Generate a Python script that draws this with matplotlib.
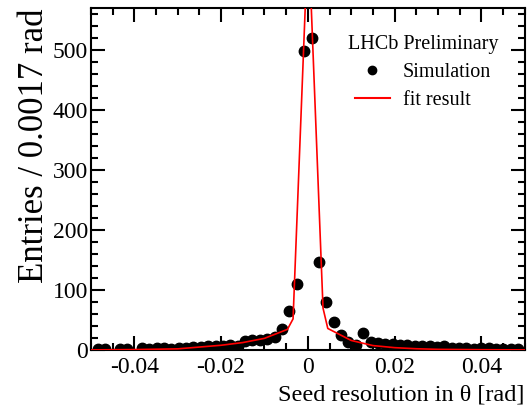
import numpy as np
import matplotlib.pyplot as plt
from matplotlib.ticker import MultipleLocator
from matplotlib.lines import Line2D

plt.rcParams['font.family'] = ['Liberation Serif', 'DejaVu Serif']

# histogram bins (width 0.0017 rad, edge at 0)
bin_width = 0.0017
bin_index = np.arange(-29, 29)
entries = [2, 2, 0, 2, 2, 0, 3, 2, 3, 3,
           2, 4, 4, 5, 5, 6, 7, 6, 8, 6,
           15, 17, 17, 18, 22, 35, 65, 110, 498, 520,
           146, 80, 46, 25, 13, 9, 29, 13, 11, 10,
           10, 9, 8, 7, 6, 6, 5, 6, 4, 3,
           3, 2, 3, 3, 2, 2, 2, 2]

# fit curve as drawn (vertices)
fit_x = [-0.05, -0.04, -0.03, -0.025, -0.02, -0.015, -0.01, -0.0047, -0.0034,
         0.0001, 0.0035, 0.0046, 0.01, 0.015, 0.02, 0.025, 0.03, 0.04, 0.05]
fit_y = [0.3, 0.8, 2, 5, 8, 12.5, 19.5, 34.5, 52,
         700, 70, 36, 16, 7.5, 4, 2.2, 1.2, 0.6, 0.3]

centers = (bin_index + 0.5) * bin_width
entries = np.array(entries, dtype=float)
mask = entries > 0

fig = plt.figure(figsize=(5.28, 4.08), dpi=100)
ax = fig.add_axes([0.172, 0.142, 0.822, 0.838])

ax.plot(centers[mask], entries[mask], 'o', color='black', markersize=7.5,
        linestyle='none', zorder=3)
ax.plot(fit_x, fit_y, color='red', linewidth=1.2, zorder=4)

ax.set_xlim(-0.05, 0.05)
ax.set_ylim(0, 570)

ax.xaxis.set_minor_locator(MultipleLocator(0.005))
ax.yaxis.set_major_locator(MultipleLocator(100))
ax.yaxis.set_minor_locator(MultipleLocator(20))
ax.set_xticks([-0.04, -0.02, 0, 0.02, 0.04])
ax.set_xticklabels(['-0.04', '-0.02', '0', '0.02', '0.04'])

ax.tick_params(which='both', direction='in', top=True, right=True,
               labelsize=17, width=1.5, color='black')
ax.tick_params(which='major', length=10)
ax.tick_params(axis='y', which='major', pad=2)
ax.tick_params(axis='x', which='major', pad=5)
ax.tick_params(which='minor', length=5)
for sp in ax.spines.values():
    sp.set_linewidth(1.5)

ax.set_xlabel('Seed resolution in θ [rad]', fontsize=17.5, loc='right', labelpad=5)
ax.set_ylabel('Entries / 0.0017 rad', fontsize=25, loc='top', labelpad=1)

handles = [Line2D([], [], marker='o', color='black', linestyle='none', markersize=6),
           Line2D([], [], color='red', linewidth=1.5)]
leg = ax.legend(handles, ['Simulation', 'fit result'], title='LHCb Preliminary',
                loc='upper left', bbox_to_anchor=(0.592, 0.922), frameon=False,
                fontsize=14.5, title_fontsize=14.5, handlelength=1.75,
                handletextpad=0.65, labelspacing=0.45, borderpad=0,
                borderaxespad=0)

fig.savefig('out.png', dpi=100)
